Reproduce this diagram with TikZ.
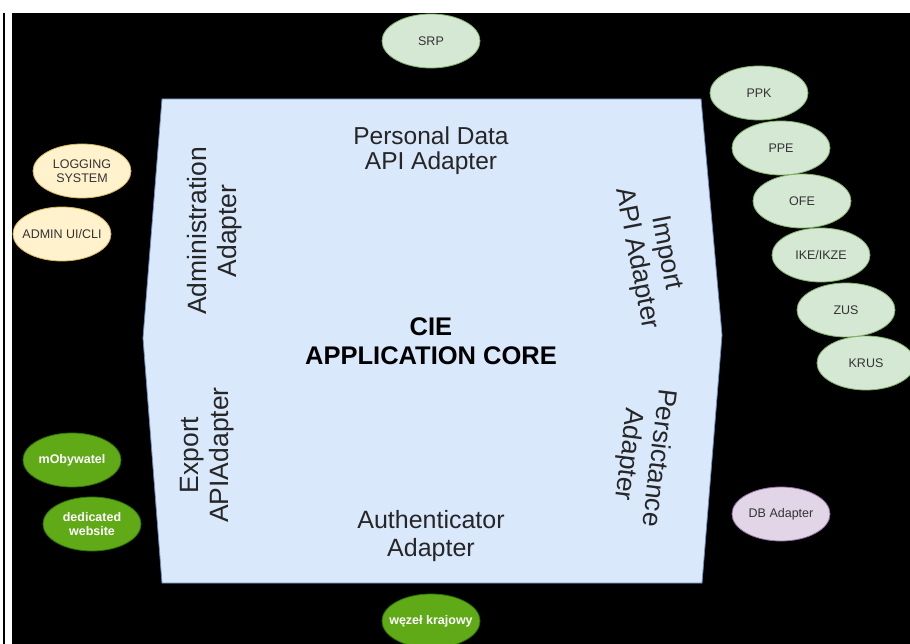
\documentclass[tikz,border=0pt]{standalone}
\usepackage{fontspec}
\setmainfont{Liberation Sans}
\usepackage{xcolor}
\usetikzlibrary{shapes}

\definecolor{coreblue}{HTML}{DAE8FC}
\definecolor{coreedge}{HTML}{6C8EBF}
\definecolor{fundgreen}{HTML}{D5E8D4}
\definecolor{fundedge}{HTML}{82B366}
\definecolor{uiyellow}{HTML}{FFF2CC}
\definecolor{uiedge}{HTML}{D6B656}
\definecolor{clientgreen}{HTML}{60A917}
\definecolor{clientedge}{HTML}{2D7600}
\definecolor{storelilac}{HTML}{E1D5E7}
\definecolor{storeedge}{HTML}{9673A6}

\begin{document}
\begin{tikzpicture}[
            x=1pt, y=-1pt,
            ext/.style={ellipse, draw, line width=0.8pt, minimum width=98pt, minimum height=54pt,
                inner xsep=-9pt, inner ysep=0pt, align=center, text=black!80,
                font=\fontsize{12.5}{14.5}\selectfont},
            fund/.style={ext, fill=fundgreen, draw=fundedge},
            ui/.style={ext, fill=uiyellow, draw=uiedge},
            client/.style={ext, fill=clientgreen, draw=clientedge, text=white,
                font=\fontsize{12.5}{14.5}\selectfont\bfseries},
            store/.style={ext, fill=storelilac, draw=storeedge},
            port/.style={align=center, text=black!85, font=\fontsize{25}{28}\selectfont},
            sideport/.style={port, font=\fontsize{26.5}{30}\selectfont},
        ]
            \useasboundingbox (0,0) rectangle (910,644);
            \fill[black] (12,13) rectangle (910,644);
            \draw[line width=2pt] (4,13) -- (4,644);

            % application core
            \draw[fill=coreblue, draw=coreedge, line width=0.8pt]
                (162,99) -- (701,99) -- (722,335) -- (702,583) -- (162,583) -- (143,338) -- cycle;
            \node[align=center, font=\fontsize{25.5}{29}\selectfont\bfseries] (core) at (431,341)
                {CIE\\APPLICATION CORE};

            % adapters
            \node[port, font=\fontsize{24.5}{25}\selectfont] (personal) at (431,151) {Personal Data\\API Adapter};
            \node[port] (auth) at (431,536) {Authenticator\\Adapter};
            \node[sideport, rotate=90] (admin) at (215,231) {Administration\\Adapter};
            \node[sideport, rotate=90] (export) at (207,455) {Export\\APIAdapter};
            \node[sideport, rotate=-79] (import) at (651,256) {Import\\API Adapter};
            \node[sideport, rotate=-97] (persist) at (643,456) {Persictance\\Adapter};

            % outside systems
            \node[fund] (srp) at (431,41) {SRP};
            \node[fund] (ppk) at (759,93) {PPK};
            \node[fund] (ppe) at (781,148) {PPE};
            \node[fund] (ofe) at (802,201) {OFE};
            \node[fund] (ike) at (821,255) {IKE/IKZE};
            \node[fund] (zus) at (846,310) {ZUS};
            \node[fund] (krus) at (866,363) {KRUS};
            \node[ui] (logging) at (82,171) {LOGGING\\SYSTEM};
            \node[ui] (adminui) at (62,234) {ADMIN UI/CLI};
            \node[client] (mobywatel) at (72,460) {mObywatel};
            \node[client] (website) at (92,524) {dedicated\\website};
            \node[client] (wezel) at (431,621) {węzeł krajowy};
            \node[store] (db) at (781,514) {DB Adapter};
        \end{tikzpicture}
\end{document}
